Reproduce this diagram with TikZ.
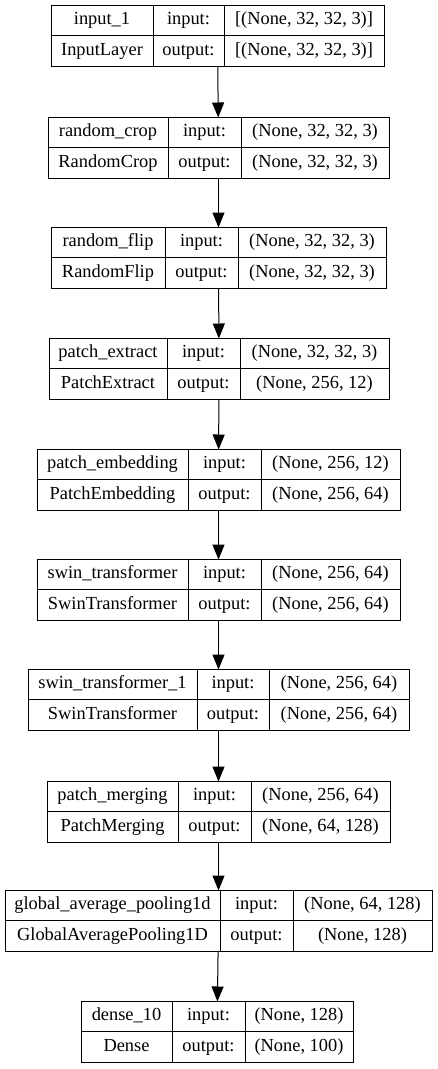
\documentclass[tikz,border=0pt]{standalone}
\usepackage{fontspec}
\setmainfont{Liberation Serif}
\newfontfamily\layerfont{Liberation Serif}
\usetikzlibrary{arrows.meta, positioning, fit}

\begin{document}
\begin{tikzpicture}[
        x=1pt, y=-1pt,
        font=\layerfont\fontsize{18.4}{22}\selectfont,
        cell/.style={rectangle, draw, line width=1pt, outer sep=0pt, inner sep=0pt, minimum height=30.5pt, text height=13pt, text depth=4pt},
        layer/.style={inner sep=0pt, outer sep=0pt},
        arrow/.style={-{Triangle[length=15pt, width=12pt]}, line width=1pt, shorten >=-0.5pt}
    ]
        \useasboundingbox (0,0) rectangle (437,1069);

        % input_1
        \node[cell, anchor=north west, minimum width=102pt] (inp-name) at (51,5) {input\_1};
        \node[cell, right=0pt of inp-name, minimum width=71pt] (inp-in) {input:};
        \node[cell, right=0pt of inp-in, minimum width=160pt] (inp-ins) {[(None, 32, 32, 3)]};
        \node[cell, below=0pt of inp-name, minimum width=102pt] (inp-type) {InputLayer};
        \node[cell, right=0pt of inp-type, minimum width=71pt] (inp-out) {output:};
        \node[cell, right=0pt of inp-out, minimum width=160pt] (inp-outs) {[(None, 32, 32, 3)]};
        \node[layer, fit=(inp-name)(inp-outs)] (inp) {};

        % random_crop
        \node[cell, anchor=north west, minimum width=120pt] (crop-name) at (48,117) {random\_crop};
        \node[cell, right=0pt of crop-name, minimum width=73pt] (crop-in) {input:};
        \node[cell, right=0pt of crop-in, minimum width=148pt] (crop-ins) {(None, 32, 32, 3)};
        \node[cell, below=0pt of crop-name, minimum width=120pt] (crop-type) {RandomCrop};
        \node[cell, right=0pt of crop-type, minimum width=73pt] (crop-out) {output:};
        \node[cell, right=0pt of crop-out, minimum width=148pt] (crop-outs) {(None, 32, 32, 3)};
        \node[layer, fit=(crop-name)(crop-outs)] (crop) {};

        % random_flip
        \node[cell, anchor=north west, minimum width=114pt] (flip-name) at (51,227) {random\_flip};
        \node[cell, right=0pt of flip-name, minimum width=73pt] (flip-in) {input:};
        \node[cell, right=0pt of flip-in, minimum width=148pt] (flip-ins) {(None, 32, 32, 3)};
        \node[cell, below=0pt of flip-name, minimum width=114pt] (flip-type) {RandomFlip};
        \node[cell, right=0pt of flip-type, minimum width=73pt] (flip-out) {output:};
        \node[cell, right=0pt of flip-out, minimum width=148pt] (flip-outs) {(None, 32, 32, 3)};
        \node[layer, fit=(flip-name)(flip-outs)] (flip) {};

        % patch_extract
        \node[cell, anchor=north west, minimum width=118pt] (extract-name) at (49,338) {patch\_extract};
        \node[cell, right=0pt of extract-name, minimum width=73pt] (extract-in) {input:};
        \node[cell, right=0pt of extract-in, minimum width=149pt] (extract-ins) {(None, 32, 32, 3)};
        \node[cell, below=0pt of extract-name, minimum width=118pt] (extract-type) {PatchExtract};
        \node[cell, right=0pt of extract-type, minimum width=73pt] (extract-out) {output:};
        \node[cell, right=0pt of extract-out, minimum width=149pt] (extract-outs) {(None, 256, 12)};
        \node[layer, fit=(extract-name)(extract-outs)] (extract) {};

        % patch_embedding
        \node[cell, anchor=north west, minimum width=151pt] (embed-name) at (37,449) {patch\_embedding};
        \node[cell, right=0pt of embed-name, minimum width=73pt] (embed-in) {input:};
        \node[cell, right=0pt of embed-in, minimum width=139pt] (embed-ins) {(None, 256, 12)};
        \node[cell, below=0pt of embed-name, minimum width=151pt] (embed-type) {PatchEmbedding};
        \node[cell, right=0pt of embed-type, minimum width=73pt] (embed-out) {output:};
        \node[cell, right=0pt of embed-out, minimum width=139pt] (embed-outs) {(None, 256, 64)};
        \node[layer, fit=(embed-name)(embed-outs)] (embed) {};

        % swin_transformer
        \node[cell, anchor=north west, minimum width=151pt] (swin-name) at (37,559) {swin\_transformer};
        \node[cell, right=0pt of swin-name, minimum width=73pt] (swin-in) {input:};
        \node[cell, right=0pt of swin-in, minimum width=139pt] (swin-ins) {(None, 256, 64)};
        \node[cell, below=0pt of swin-name, minimum width=151pt] (swin-type) {SwinTransformer};
        \node[cell, right=0pt of swin-type, minimum width=73pt] (swin-out) {output:};
        \node[cell, right=0pt of swin-out, minimum width=139pt] (swin-outs) {(None, 256, 64)};
        \node[layer, fit=(swin-name)(swin-outs)] (swin) {};

        % swin_transformer_1
        \node[cell, anchor=north west, minimum width=169pt] (swinb-name) at (28,669) {swin\_transformer\_1};
        \node[cell, right=0pt of swinb-name, minimum width=72pt] (swinb-in) {input:};
        \node[cell, right=0pt of swinb-in, minimum width=140pt] (swinb-ins) {(None, 256, 64)};
        \node[cell, below=0pt of swinb-name, minimum width=169pt] (swinb-type) {SwinTransformer};
        \node[cell, right=0pt of swinb-type, minimum width=72pt] (swinb-out) {output:};
        \node[cell, right=0pt of swinb-out, minimum width=140pt] (swinb-outs) {(None, 256, 64)};
        \node[layer, fit=(swinb-name)(swinb-outs)] (swinb) {};

        % patch_merging
        \node[cell, anchor=north west, minimum width=131pt] (merge-name) at (47,781) {patch\_merging};
        \node[cell, right=0pt of merge-name, minimum width=73pt] (merge-in) {input:};
        \node[cell, right=0pt of merge-in, minimum width=139pt] (merge-ins) {(None, 256, 64)};
        \node[cell, below=0pt of merge-name, minimum width=131pt] (merge-type) {PatchMerging};
        \node[cell, right=0pt of merge-type, minimum width=73pt] (merge-out) {output:};
        \node[cell, right=0pt of merge-out, minimum width=139pt] (merge-outs) {(None, 64, 128)};
        \node[layer, fit=(merge-name)(merge-outs)] (merge) {};

        % global_average_pooling1d
        \node[cell, anchor=north west, minimum width=215pt] (gap-name) at (5,890) {global\_average\_pooling1d};
        \node[cell, right=0pt of gap-name, minimum width=73pt] (gap-in) {input:};
        \node[cell, right=0pt of gap-in, minimum width=139pt] (gap-ins) {(None, 64, 128)};
        \node[cell, below=0pt of gap-name, minimum width=215pt] (gap-type) {GlobalAveragePooling1D};
        \node[cell, right=0pt of gap-type, minimum width=73pt] (gap-out) {output:};
        \node[cell, right=0pt of gap-out, minimum width=139pt] (gap-outs) {(None, 128)};
        \node[layer, fit=(gap-name)(gap-outs)] (gap) {};

        % dense_10
        \node[cell, anchor=north west, minimum width=91pt] (dense-name) at (81,1001) {dense\_10};
        \node[cell, right=0pt of dense-name, minimum width=73pt] (dense-in) {input:};
        \node[cell, right=0pt of dense-in, minimum width=108pt] (dense-ins) {(None, 128)};
        \node[cell, below=0pt of dense-name, minimum width=91pt] (dense-type) {Dense};
        \node[cell, right=0pt of dense-type, minimum width=73pt] (dense-out) {output:};
        \node[cell, right=0pt of dense-out, minimum width=108pt] (dense-outs) {(None, 100)};
        \node[layer, fit=(dense-name)(dense-outs)] (dense) {};

        % edges
        \draw[arrow] (inp) -- (crop);
        \draw[arrow] (crop) -- (flip);
        \draw[arrow] (flip) -- (extract);
        \draw[arrow] (extract) -- (embed);
        \draw[arrow] (embed) -- (swin);
        \draw[arrow] (swin) -- (swinb);
        \draw[arrow] (swinb) -- (merge);
        \draw[arrow] (merge) -- (gap);
        \draw[arrow] (gap) -- (dense);
    \end{tikzpicture}
\end{document}
